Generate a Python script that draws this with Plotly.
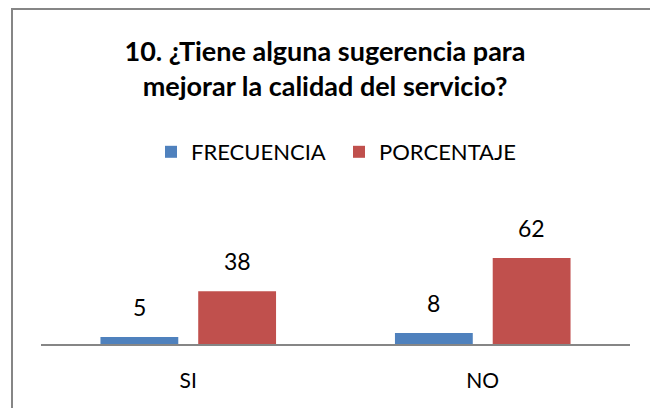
import plotly.graph_objects as go

categories = ["SI", "NO"]
frecuencia = [5, 8]
porcentaje = [38, 62]
series_names = ["FRECUENCIA", "PORCENTAJE"]
title_text = "10. ¿Tiene alguna sugerencia para<br>mejorar la calidad del servicio?"

# page has an 8px body margin, so the figure is drawn 8px smaller/offset
W, H = 650, 400
L, R, T, B = 33, 28, 239, 64
PW, PH = W - L - R, H - T - B

blue = "#4F81BD"
red = "#C0504D"
font = "Lato"

fig = go.Figure()
fig.add_trace(go.Bar(x=categories, y=frecuencia, name=series_names[0],
                     marker=dict(color=blue, line=dict(width=0))))
fig.add_trace(go.Bar(x=categories, y=porcentaje, name=series_names[1],
                     marker=dict(color=red, line=dict(width=0))))

# data labels
slot = PW / 2 * (1 - 0.336) / 2
annotations = []
for vals, sh in ((frecuencia, -slot / 2), (porcentaje, slot / 2)):
    for c, v in zip(categories, vals):
        annotations.append(dict(x=c, y=v, xref="x", yref="y", text=str(v),
                                showarrow=False, xshift=sh, yshift=14,
                                yanchor="bottom",
                                font=dict(family=font, size=23, color="#000000")))

def px_to_paper_x(px):
    return (px - L) / PW

def px_to_paper_y(py):
    return (H - B - py) / PH

shapes = [dict(type="rect", xref="paper", yref="paper",
               x0=px_to_paper_x(4), x1=px_to_paper_x(700),
               y0=px_to_paper_y(450), y1=px_to_paper_y(1),
               line=dict(color="#868686", width=2), fillcolor="rgba(0,0,0,0)",
               layer="below")]

fig.update_layout(
    width=W, height=H,
    margin=dict(l=L, r=R, t=T, b=B, autoexpand=False),
    paper_bgcolor="white", plot_bgcolor="white",
    barmode="group", bargap=0.336, bargroupgap=0.204,
    title=dict(text=title_text, x=317 / W, xanchor="center",
               y=1 - 53 / H, yanchor="middle", xref="container", yref="container",
               font=dict(family=font, size=27, color="#000000", weight="bold")),
    legend=dict(orientation="h", xref="container", yref="container",
                x=143 / W, xanchor="left", y=1 - 144 / H, yanchor="middle",
                font=dict(family=font, size=22, color="#000000"),
                itemwidth=30, entrywidth=143, traceorder="normal"),
    xaxis=dict(range=[-0.5, 1.5], showline=True, linecolor="#868686", linewidth=2,
               showgrid=False, zeroline=False, ticks="", ticklabelstandoff=17,
               tickfont=dict(family=font, size=21, color="#000000")),
    yaxis=dict(range=[0, 70], visible=False, showgrid=False, zeroline=False),
    annotations=annotations,
    shapes=shapes,
    showlegend=True,
)

fig.write_html("out.html")
